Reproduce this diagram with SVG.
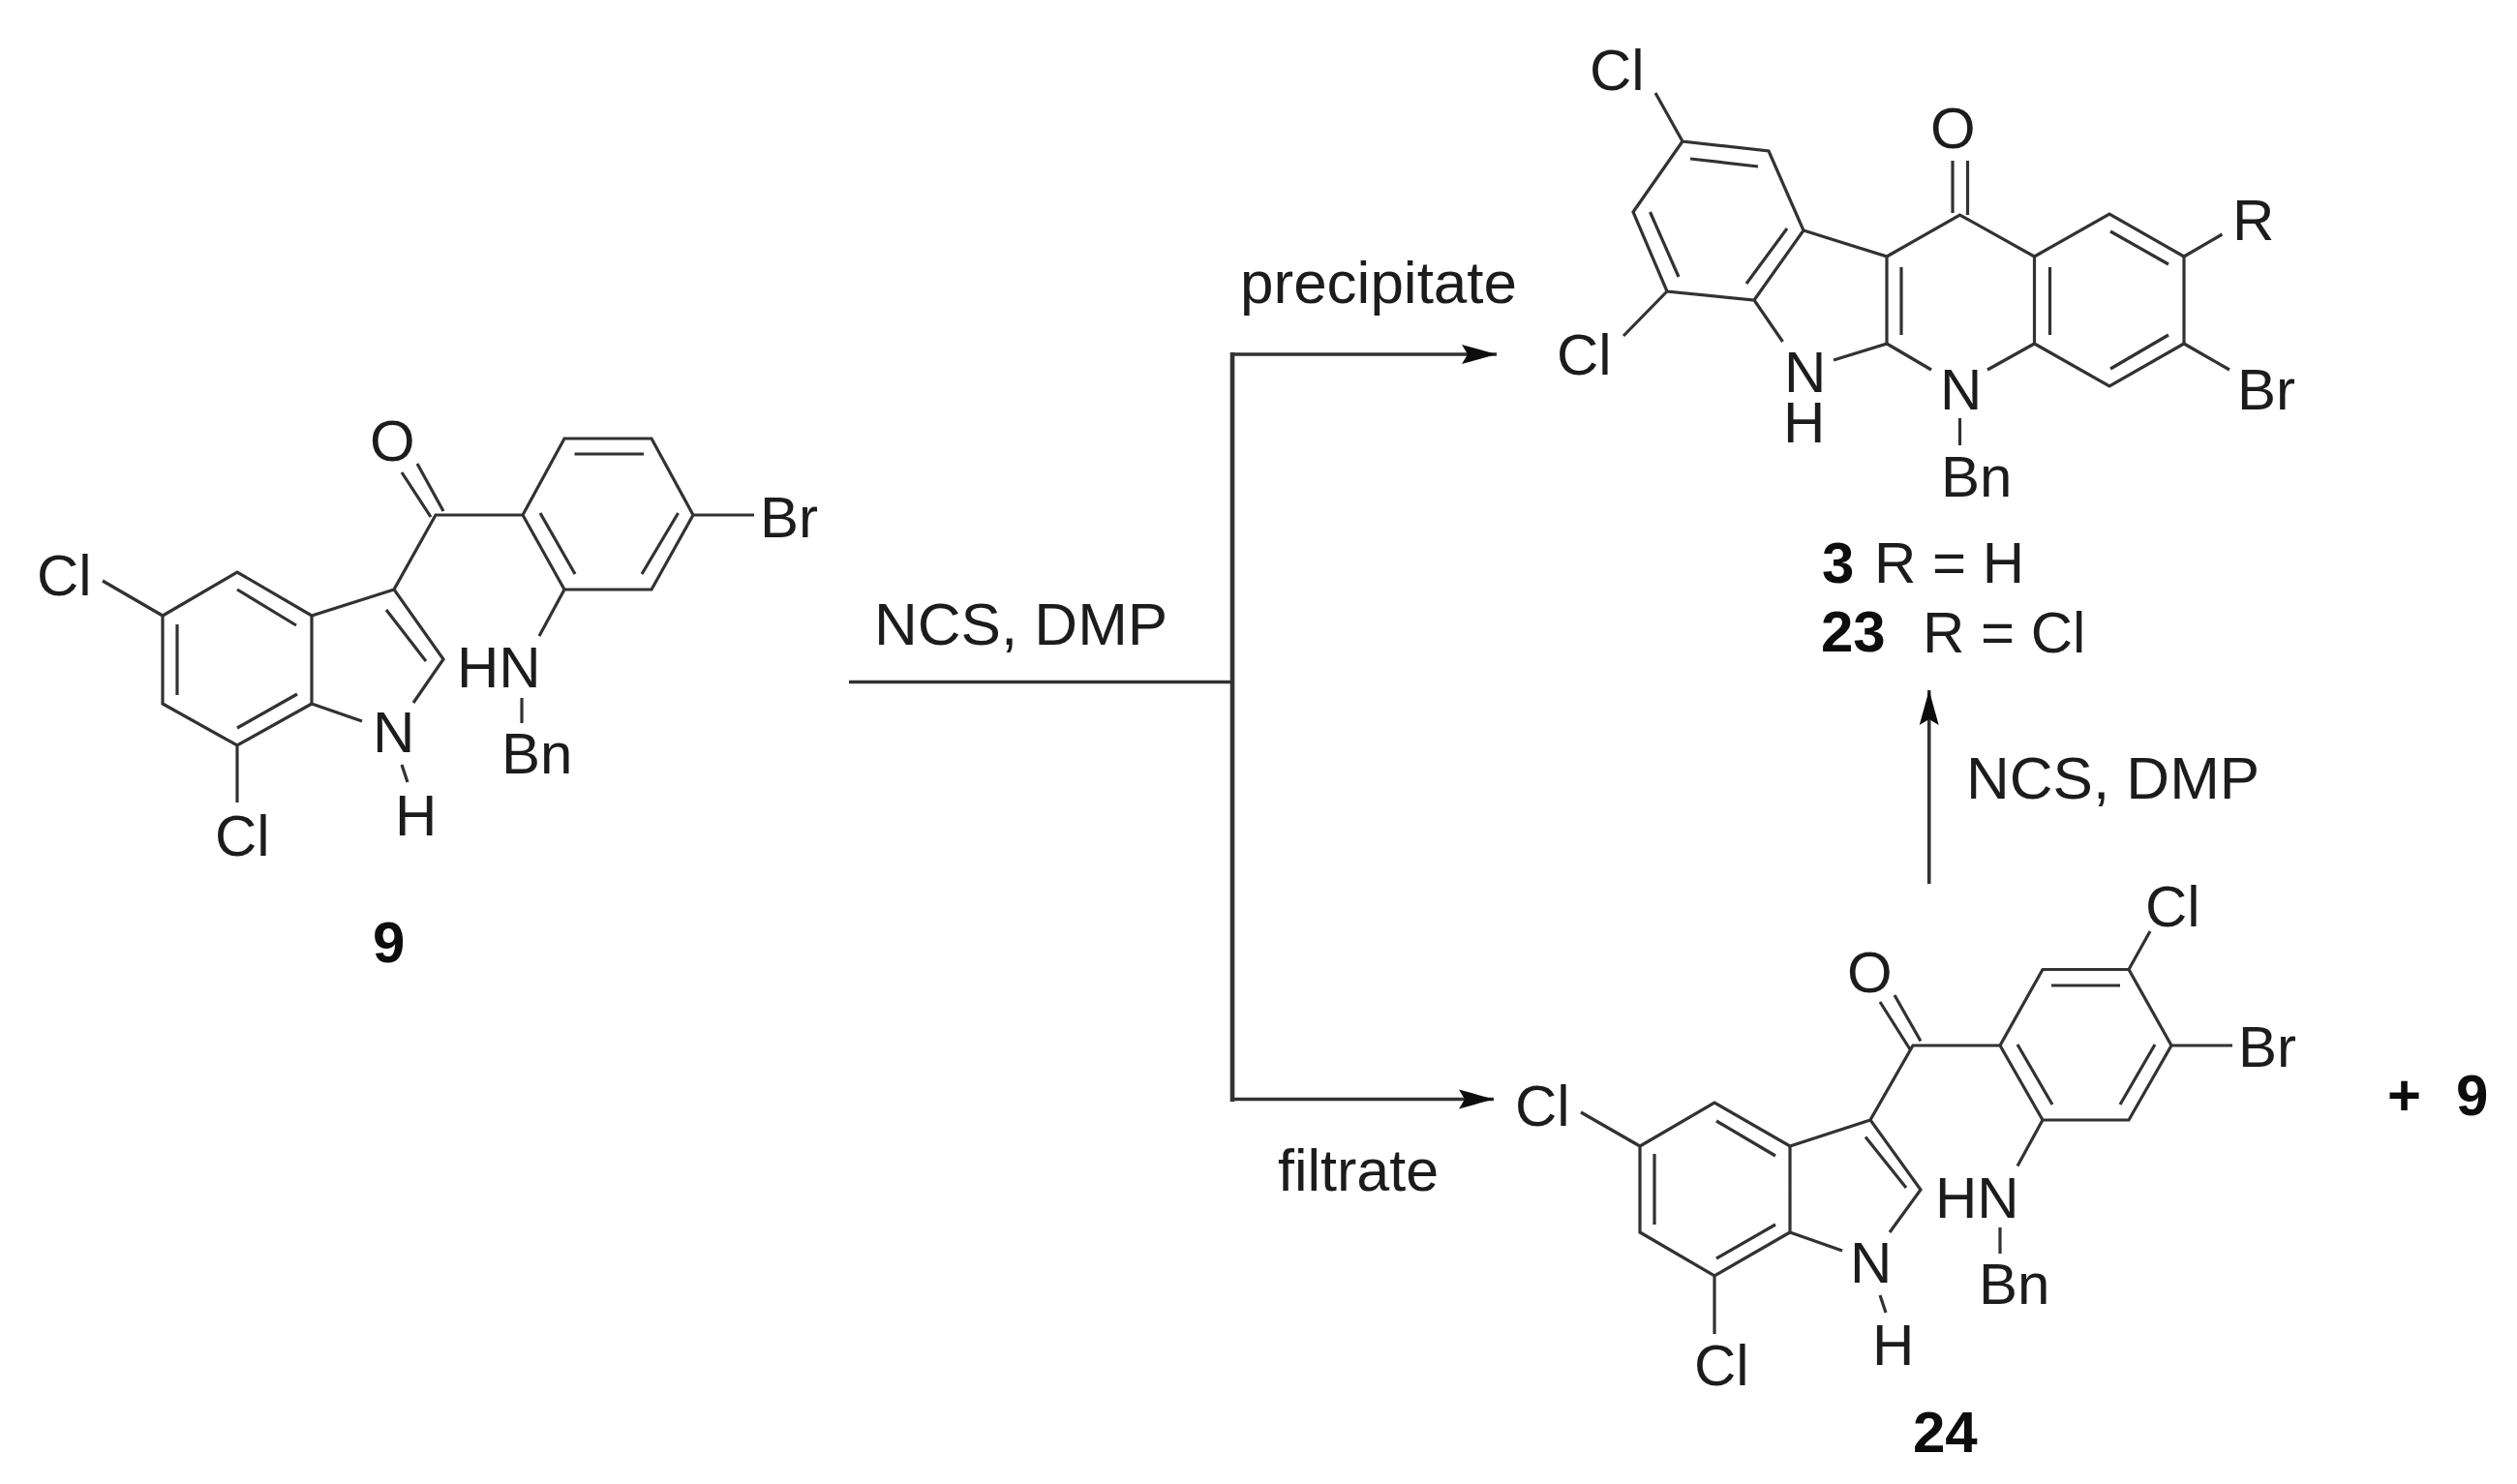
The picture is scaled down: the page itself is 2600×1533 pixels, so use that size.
<svg xmlns="http://www.w3.org/2000/svg" width="2600" height="1533" viewBox="0 0 2600 1533">
<style>
text{font-family:"Liberation Sans",Arial,sans-serif;font-size:60px;fill:#1c1c1c}
.b{font-weight:bold;fill:#111}
.r{font-size:62px}
.bond{fill:none;stroke:#333;stroke-width:3.2;stroke-linejoin:miter;stroke-linecap:butt}
.conn{fill:none;stroke:#333;stroke-width:3.6}
.bar{stroke-width:4.6}
</style>
<defs>
<filter id="soft" filterUnits="userSpaceOnUse" x="0" y="0" width="2600" height="1533"><feGaussianBlur stdDeviation="0.7"/></filter>
<marker id="head" markerUnits="userSpaceOnUse" markerWidth="42" markerHeight="24" refX="36" refY="12" orient="auto"><path d="M0,2 L36,12 L0,22 L6,12 Z" fill="#111"/></marker>
</defs>
<rect width="2600" height="1533" fill="#fff"/>
<g filter="url(#soft)">
<g id="connectors">
<path class="conn" d="M877,704.5 H1273"/>
<path class="conn bar" d="M1273,364 V1138"/>
<path class="conn" d="M1273,366 H1546" marker-end="url(#head)"/>
<path class="conn" d="M1273,1135.5 H1543" marker-end="url(#head)"/>
<path class="conn" d="M1992.7,913 V713" marker-end="url(#head)"/>
</g>
<g id="compound-9">
<path class="bond" d="M540,532 L583,453 H673 L716,532 L673,609 H583 L540,532 H450 L407,609 L458,681 L427,726 M716,532 H779 M593.5,469 H665 M700.5,530 L663,593 M558,530 L594,593 M431,479 L458,528 M415,488 L445,534 M407,609 L322,636 L245,591 L168,636 V727 L245,770 L322,727 V636 M168,636 L106,600 M245,770 V829 M322,727 L374,745 M245,609 L306,646 M183,645 V718 M245,752 L307,717 M399,630 L440,683 M415,790 L421,808 M583,609 L557,657 M539,721 V747"/>
<text x="382" y="476">O</text><text x="785" y="555">Br</text><text x="38" y="615">Cl</text><text x="222" y="884">Cl</text><text x="385" y="777">N</text><text x="408" y="863">H</text><text x="472" y="710">HN</text><text x="518" y="799">Bn</text><text class="b" x="385" y="994">9</text>
</g>
<g id="compound-3">
<path class="bond" d="M1710,96 L1738,146 L1827,156 L1863,238 L1812,310 L1722,301 L1687,219 L1738,146 M1746,164 L1816,172 M1704.5,219 L1734,286 M1846,236 L1804,293 M1722,301 L1677,347 M1812,310 L1841.5,353 M1894,372 L1949,355 V265 L1863,238 M1964,276 V346 M1949,265 L2024.5,222 L2101.5,265 V355 M2117.5,276 V346 M2017,166 V220 M2032.5,166 V222 M1949,355 L1995,382 M2101.5,355 L2053,382 M2024.5,432 V460 M2101.5,265 L2179,221 L2256,265 V355 L2179,399 L2101.5,355 M2180,239 L2240,273 M2240,346 L2180,381 M2256,265 L2295.5,242 M2256,355 L2303,382"/>
<text x="1642" y="93">Cl</text><text x="1608" y="387">Cl</text><text x="1843" y="405">N<tspan x="1842" y="457">H</tspan></text><text x="1994" y="153">O</text><text x="2004" y="423">N</text><text x="2005" y="513">Bn</text><text x="2306" y="248">R</text><text x="2311" y="423">Br</text>
<text class="b" x="1882" y="602">3</text><text x="1936" y="602">R = H</text><text class="b" x="1881" y="673">23</text><text x="1986" y="674">R = Cl</text>
</g>
<g id="compound-24">
<path class="bond" d="M2221,962 L2199,1001.5 H2110 L2066,1080 L2110,1157 H2199 L2243,1080 L2199,1001.5 M2119,1018 H2190 M2226,1079 L2190,1141 M2084,1079 L2120,1141 M2243,1080 H2306 M2066,1080 H1976 L1932,1157 L1984,1229 L1952,1273 M1957,1028 L1984,1075.5 M1942,1035 L1973,1084 M1932,1157 L1849,1184 L1771,1139 L1694,1184 V1273 L1771,1318 L1849,1273 V1184 M1694,1184 L1633,1149 M1771,1318 V1378 M1849,1273 L1903,1292 M1942,1338 L1948,1356 M1773,1158 L1834,1194 M1709,1192 V1265 M1773,1300 L1834,1265 M1927,1174.5 L1969,1227 M2110,1157 L2084,1204.5 M2066,1268 V1295"/>
<text x="2216" y="957">Cl</text><text x="2312" y="1102">Br</text><text x="1908" y="1025">O</text><text x="1565" y="1163">Cl</text><text x="1750" y="1431">Cl</text><text x="1911" y="1325">N</text><text x="1934" y="1410">H</text><text x="1999" y="1258">HN</text><text x="2044" y="1347">Bn</text><text class="b" x="1976" y="1500">24</text><text class="b" x="2466" y="1152">+</text><text class="b" x="2537" y="1152">9</text>
</g>
<g id="labels">
<text class="r" x="903" y="666">NCS, DMP</text><text class="r" x="2031" y="825">NCS, DMP</text><text class="r" x="1281" y="313">precipitate</text><text x="1320" y="1230" style="font-size:61px">filtrate</text>
</g>
</g>
</svg>
